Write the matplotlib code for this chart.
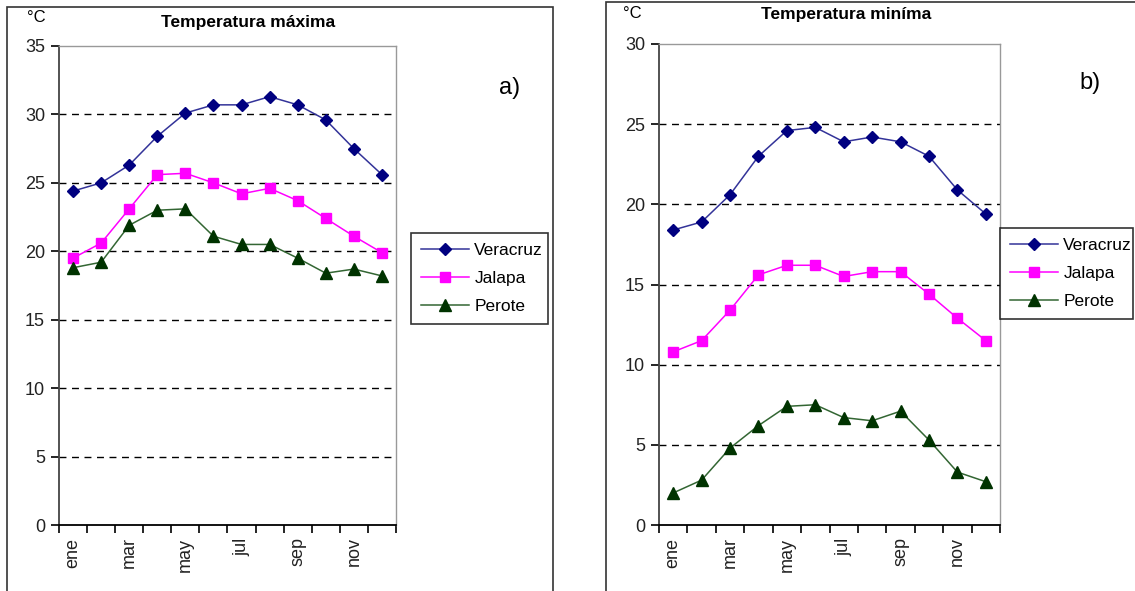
import matplotlib.pyplot as plt
from matplotlib.patches import Rectangle

plt.rcParams["font.family"] = ["Liberation Sans", "DejaVu Sans"]

meses = ["ene", "feb", "mar", "abr", "may", "jun", "jul", "ago", "sep", "oct", "nov", "dic"]
etiquetas = ["ene", "mar", "may", "jul", "sep", "nov"]

# temperatura maxima
max_veracruz = [24.4, 25.0, 26.3, 28.4, 30.1, 30.7, 30.7, 31.3, 30.7, 29.6, 27.5, 25.6]
max_jalapa = [19.5, 20.6, 23.1, 25.6, 25.7, 25.0, 24.2, 24.6, 23.7, 22.4, 21.1, 19.9]
max_perote = [18.8, 19.2, 21.9, 23.0, 23.1, 21.1, 20.5, 20.5, 19.5, 18.4, 18.7, 18.2]

# temperatura minima
min_veracruz = [18.4, 18.9, 20.6, 23.0, 24.6, 24.8, 23.9, 24.2, 23.9, 23.0, 20.9, 19.4]
min_jalapa = [10.8, 11.5, 13.4, 15.6, 16.2, 16.2, 15.5, 15.8, 15.8, 14.4, 12.9, 11.5]
min_perote = [2.0, 2.8, 4.8, 6.2, 7.4, 7.5, 6.7, 6.5, 7.1, 5.3, 3.3, 2.7]

W, H = 1135, 591
fig = plt.figure(figsize=(W / 100, H / 100), dpi=100)


def px_box(x0, x1, ytop, ybot):
    return [x0 / W, (H - ybot) / H, (x1 - x0) / W, (ybot - ytop) / H]


# marcos de cada panel
fig.patches.append(Rectangle((7 / W, -0.05), (553 - 7) / W, (H - 7) / H + 0.05,
                             transform=fig.transFigure, fill=False, ec="#333333", lw=1.2))
fig.patches.append(Rectangle((606 / W, -0.05), (1140 - 606) / W, (H - 2) / H + 0.05,
                             transform=fig.transFigure, fill=False, ec="#333333", lw=1.2))


def panel(box, veracruz, jalapa, perote, ymax, titulo, letra, tpos, cpos, lpos, leg_box):
    ax = fig.add_axes(px_box(*box))
    x = [i + 0.5 for i in range(len(meses))]
    ax.plot(x, veracruz, color="#333399", lw=1.1, marker="D", ms=6.5,
            mfc="#000080", mec="#000080", label="Veracruz")
    ax.plot(x, jalapa, color="#FF00FF", lw=1.1, marker="s", ms=7.5,
            mfc="#FF00FF", mec="#FF00FF", label="Jalapa")
    ax.plot(x, perote, color="#336633", lw=1.1, marker="^", ms=8.5,
            mfc="#003300", mec="#003300", label="Perote")
    ax.set_xlim(0, 12)
    ax.set_ylim(0, ymax)
    ax.set_yticks(range(0, ymax + 1, 5))
    for y in range(5, ymax, 5):
        ax.axhline(y, color="black", lw=1.0, ls=(0, (5, 4)), zorder=0)
    ax.set_xticks(range(13))
    ax.set_xticklabels([])
    ax.set_xticks([0.5 + 2 * i for i in range(len(etiquetas))], minor=True)
    ax.set_xticklabels(etiquetas, minor=True, rotation=90, fontsize=13, color="#222222")
    ax.tick_params(axis="x", which="major", direction="out", length=6, width=1.2)
    ax.tick_params(axis="x", which="minor", length=0, pad=9)
    ax.tick_params(axis="y", direction="out", length=6, width=1.2, labelsize=13,
                   labelcolor="#222222", pad=4)
    for s in ["top", "right"]:
        ax.spines[s].set_color("#999999")
        ax.spines[s].set_linewidth(1.0)
    ax.spines["left"].set_color("#444444")
    ax.spines["left"].set_linewidth(1.3)
    ax.spines["bottom"].set_color("black")
    ax.spines["bottom"].set_linewidth(1.3)
    fig.text(tpos[0] / W, 1 - tpos[1] / H, titulo, ha="center", va="center",
             fontsize=12.5, fontweight="bold")
    fig.text(cpos[0] / W, 1 - cpos[1] / H, "°C", ha="center", va="center", fontsize=12)
    fig.text(lpos[0] / W, 1 - lpos[1] / H, letra, ha="center", va="center", fontsize=17)
    x0, ytop, w, h = leg_box
    leg = ax.legend(loc="upper left", bbox_to_anchor=(x0 / W, 1 - (ytop + h) / H, w / W, h / H),
                    bbox_transform=fig.transFigure, mode="expand", frameon=True,
                    fancybox=False, edgecolor="black", fontsize=12.5,
                    handlelength=2.8, borderaxespad=0, labelspacing=0.75,
                    handletextpad=0.3, borderpad=0.55)
    leg.get_frame().set_linewidth(1.2)
    return ax


panel((59, 396, 46, 525), max_veracruz, max_jalapa, max_perote, 35,
      "Temperatura máxima", "a)", (248, 22), (36, 18), (510, 88), (411, 233, 137, 97))
panel((659, 1000, 44, 525), min_veracruz, min_jalapa, min_perote, 30,
      "Temperatura miníma", "b)", (846, 14), (632, 14), (1090, 83), (1000, 228, 133, 97))

fig.savefig("out.png", dpi=100)
